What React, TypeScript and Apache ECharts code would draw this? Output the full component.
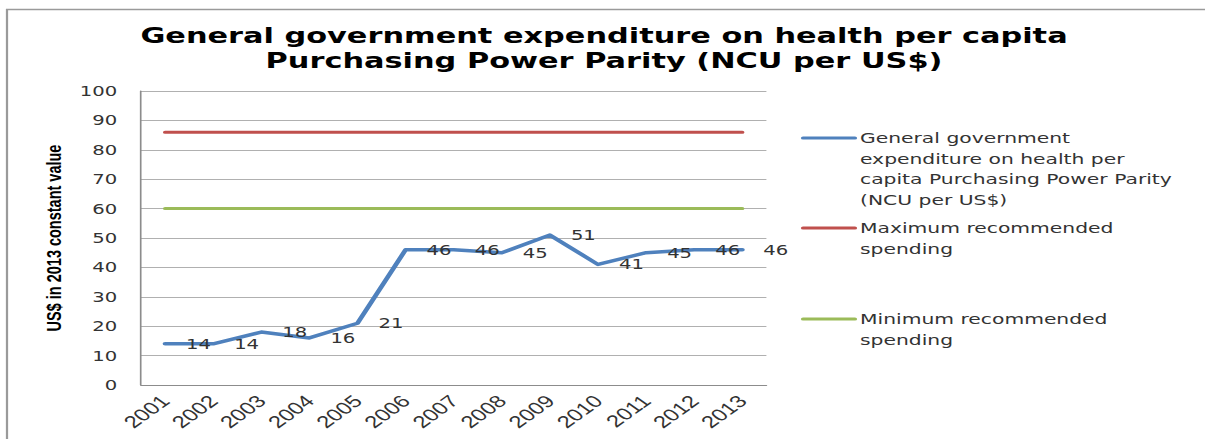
import React, { useEffect, useRef } from "react";
import * as echarts from "echarts";

const years = ["2001", "2002", "2003", "2004", "2005", "2006", "2007", "2008", "2009", "2010", "2011", "2012", "2013"];
const spending = [14, 14, 18, 16, 21, 46, 46, 45, 51, 41, 45, 46, 46];
const maxRecommended = [86, 86, 86, 86, 86, 86, 86, 86, 86, 86, 86, 86, 86];
const minRecommended = [60, 60, 60, 60, 60, 60, 60, 60, 60, 60, 60, 60, 60];
const seriesNames = [
  "General government expenditure on health per capita Purchasing Power Parity (NCU per US$)",
  "Maximum recommended spending",
  "Minimum recommended spending",
];
const legendLines = [
  "General government\nexpenditure on health per\ncapita Purchasing Power Parity\n(NCU per US$)",
  "Maximum recommended\nspending",
  "Minimum recommended\nspending",
];
const colors = ["#4f81bd", "#c0504d", "#9bbb59"];
const yMin = 0;
const yMax = 100;
const yInterval = 10;
const titleText = "General government expenditure on health per capita\nPurchasing Power Parity (NCU per US$)";
const yAxisName = "US$ in 2013 constant value";

const S = 1.4;
const W = 1205 / S;
const H = 439;

export default function App() {
  const ref = useRef<HTMLDivElement>(null);
  useEffect(() => {
    if (!ref.current) return;
    const chart = echarts.init(ref.current, null, { renderer: "svg" });
    const legendX1 = 803 / S;
    const legendX2 = 855 / S;
    const legendTextX = 860 / S;
    const legendY = [138, 228, 319];
    const lh = 20.7;
    const graphics: any[] = [
      {
        type: "rect",
        silent: true,
        z: -10,
        shape: { x: 7 / S, y: 9.5, width: 2000, height: 1000 },
        style: { fill: "none", stroke: "#9a9a9a", lineWidth: 1.6 },
      },
      {
        type: "text",
        silent: true,
        x: 604 / S,
        y: 23,
        style: {
          text: titleText,
          fontSize: 21.7,
          fontWeight: "bold",
          fontFamily: "DejaVu Sans",
          fill: "#000",
          lineHeight: 25,
          align: "center",
          verticalAlign: "top",
        },
      },
    ];
    legendLines.forEach((t, i) => {
      graphics.push({
        type: "line",
        silent: true,
        shape: { x1: legendX1, y1: legendY[i], x2: legendX2, y2: legendY[i] },
        style: { stroke: colors[i], lineWidth: 3, lineCap: "round" },
      });
      graphics.push({
        type: "text",
        silent: true,
        x: legendTextX,
        y: legendY[i] - lh / 2,
        style: {
          text: t,
          fontSize: 14.5,
          fontFamily: "DejaVu Sans",
          fill: "#333",
          lineHeight: lh,
          verticalAlign: "top",
          align: "left",
        },
      });
    });

    chart.setOption({
      animation: false,
      backgroundColor: "#fff",
      grid: { left: 141 / S, right: W - 766 / S, top: 91, bottom: H - 385, containLabel: false },
      xAxis: {
        type: "category",
        data: years,
        boundaryGap: true,
        axisLine: { show: true, lineStyle: { color: "#8c8c8c", width: 1.2 } },
        axisTick: { show: false },
        axisLabel: {
          rotate: 45,
          interval: 0,
          margin: 13,
          fontFamily: "Liberation Sans",
          fontSize: 17,
          color: "#333",
        },
        splitLine: { show: false },
      },
      yAxis: {
        type: "value",
        min: yMin,
        max: yMax,
        interval: yInterval,
        name: yAxisName,
        nameLocation: "middle",
        nameGap: 53,
        nameTextStyle: {
          fontFamily: "Liberation Sans",
          fontWeight: "bold",
          fontSize: 14.5,
          color: "#000",
        },
        axisLine: { show: true, lineStyle: { color: "#8c8c8c", width: 1.2 } },
        axisTick: { show: false },
        axisLabel: {
          fontFamily: "DejaVu Sans",
          fontSize: 14,
          color: "#333",
          margin: 17,
        },
        splitLine: { show: true, lineStyle: { color: "#b0b0b0", width: 1.2 } },
      },
      series: [
        {
          type: "line",
          name: seriesNames[0],
          data: spending,
          symbol: "circle",
          symbolSize: 2,
          showSymbol: true,
          z: 5,
          lineStyle: { color: colors[0], width: 3.5, join: "round", cap: "round" },
          itemStyle: { color: colors[0] },
          label: {
            show: true,
            position: "right",
            distance: 14,
            fontFamily: "DejaVu Sans",
            fontSize: 14,
            color: "#333",
          },
        },
        {
          type: "line",
          name: seriesNames[1],
          data: maxRecommended,
          symbol: "none",
          lineStyle: { color: colors[1], width: 3, cap: "round" },
          itemStyle: { color: colors[1] },
        },
        {
          type: "line",
          name: seriesNames[2],
          data: minRecommended,
          symbol: "none",
          lineStyle: { color: colors[2], width: 3, cap: "round" },
          itemStyle: { color: colors[2] },
        },
      ],
      graphic: graphics,
    });
    return () => chart.dispose();
  }, []);
  return (
    <div
      style={{
        position: "absolute",
        left: 0,
        top: 0,
        width: 1205,
        height: H,
        overflow: "hidden",
        background: "#fff",
      }}
    >
      <div
        ref={ref}
        style={{ width: W, height: H, transform: `scaleX(${S})`, transformOrigin: "0 0" }}
      />
    </div>
  );
}
